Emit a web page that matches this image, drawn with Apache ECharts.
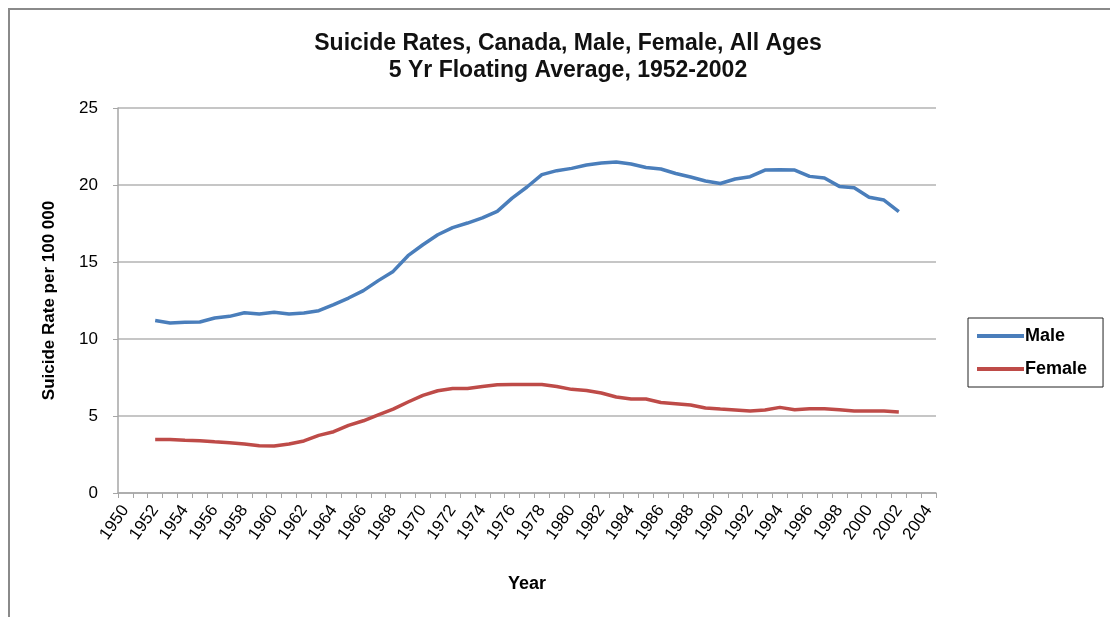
<!DOCTYPE html>
<html>
<head>
<meta charset="utf-8">
<script src="https://cdn.jsdelivr.net/npm/echarts@6/dist/echarts.min.js"></script>
<style>html,body{margin:0;padding:0;background:#fff}#c{width:1110px;height:617px}</style>
</head>
<body>
<div id="c"></div>
<script>
var years = [];
for (var y = 1950; y <= 2004; y++) years.push(String(y));

// 1950, 1951 have no data; 2003, 2004 have no data
var male = [null, null,
  11.2, 11.04, 11.08, 11.1, 11.36, 11.47, 11.7, 11.62, 11.73, 11.62,
  11.69, 11.84, 12.23, 12.66, 13.14, 13.79, 14.39, 15.41, 16.12, 16.77,
  17.23, 17.53, 17.86, 18.29, 19.15, 19.87, 20.67, 20.93, 21.08, 21.3,
  21.43, 21.49, 21.36, 21.14, 21.04, 20.75, 20.52, 20.26, 20.1, 20.39,
  20.54, 20.97, 20.99, 20.97, 20.56, 20.45, 19.91, 19.82, 19.2, 19.02,
  18.27, null, null];

var female = [null, null,
  3.48, 3.48, 3.42, 3.4, 3.33, 3.27, 3.18, 3.07, 3.05, 3.18,
  3.38, 3.74, 3.98, 4.39, 4.69, 5.08, 5.45, 5.91, 6.34, 6.64,
  6.79, 6.79, 6.92, 7.03, 7.05, 7.05, 7.05, 6.92, 6.73, 6.66,
  6.49, 6.23, 6.1, 6.1, 5.88, 5.8, 5.71, 5.52, 5.45, 5.39,
  5.32, 5.39, 5.56, 5.41, 5.47, 5.47, 5.41, 5.32, 5.32, 5.32,
  5.26, null, null];

var chart = echarts.init(document.getElementById('c'), null, {renderer: 'canvas'});
var font = 'Liberation Sans, Arial, sans-serif';
chart.setOption({
  animation: false,
  textStyle: {fontFamily: font},
  title: {
    text: 'Suicide Rates, Canada, Male, Female, All Ages\n5 Yr Floating Average, 1952-2002',
    left: 563, top: 25, textAlign: 'center',
    textStyle: {fontFamily: font, fontSize: 23, fontWeight: 'bold', color: '#111', lineHeight: 27}
  },
  graphic: [{
    type: 'polyline', silent: true,
    shape: {points: [[9, 640], [9, 9], [1120, 9]]},
    style: {stroke: '#8a8a8a', lineWidth: 2, fill: null}
  }],
  legend: {
    orient: 'vertical', left: 968, top: 318,
    padding: [9, 16, 9, 9], itemGap: 15,
    borderColor: '#222', borderWidth: 1,
    icon: 'rect', itemWidth: 47, itemHeight: 4,
    textStyle: {fontFamily: font, fontSize: 18, fontWeight: 'bold', color: '#000', padding: [0, 0, 0, -4]},
    data: ['Male', 'Female']
  },
  grid: {left: 118, right: 174, top: 108, bottom: 124, containLabel: false},
  xAxis: {
    type: 'category', data: years, boundaryGap: true,
    name: 'Year', nameLocation: 'middle', nameGap: 82,
    nameTextStyle: {fontFamily: font, fontSize: 18, fontWeight: 'bold', color: '#000'},
    axisLine: {lineStyle: {color: '#a6a6a6', width: 1.5}},
    axisTick: {show: true, interval: 0, length: 5, lineStyle: {color: '#a6a6a6'}},
    axisLabel: {interval: 1, rotate: 55, margin: 14, fontFamily: font, fontSize: 17, color: '#000'}
  },
  yAxis: {
    type: 'value', min: 0, max: 25, interval: 5,
    name: 'Suicide Rate per 100 000', nameLocation: 'middle', nameGap: 60,
    nameTextStyle: {fontFamily: font, fontSize: 17, fontWeight: 'bold', color: '#000'},
    axisLine: {show: true, lineStyle: {color: '#a6a6a6', width: 1.5}},
    axisTick: {show: true, length: 5, lineStyle: {color: '#a6a6a6'}},
    axisLabel: {margin: 20, fontFamily: font, fontSize: 17, color: '#000'},
    splitLine: {lineStyle: {color: '#b3b3b3', width: 1.5}}
  },
  series: [
    {name: 'Male', type: 'line', data: male, showSymbol: false, symbol: 'none', connectNulls: false,
     itemStyle: {color: '#4a7ebb'}, lineStyle: {color: '#4a7ebb', width: 3.5}},
    {name: 'Female', type: 'line', data: female, showSymbol: false, symbol: 'none', connectNulls: false,
     itemStyle: {color: '#be4b48'}, lineStyle: {color: '#be4b48', width: 3.5}}
  ]
});
</script>
</body>
</html>
